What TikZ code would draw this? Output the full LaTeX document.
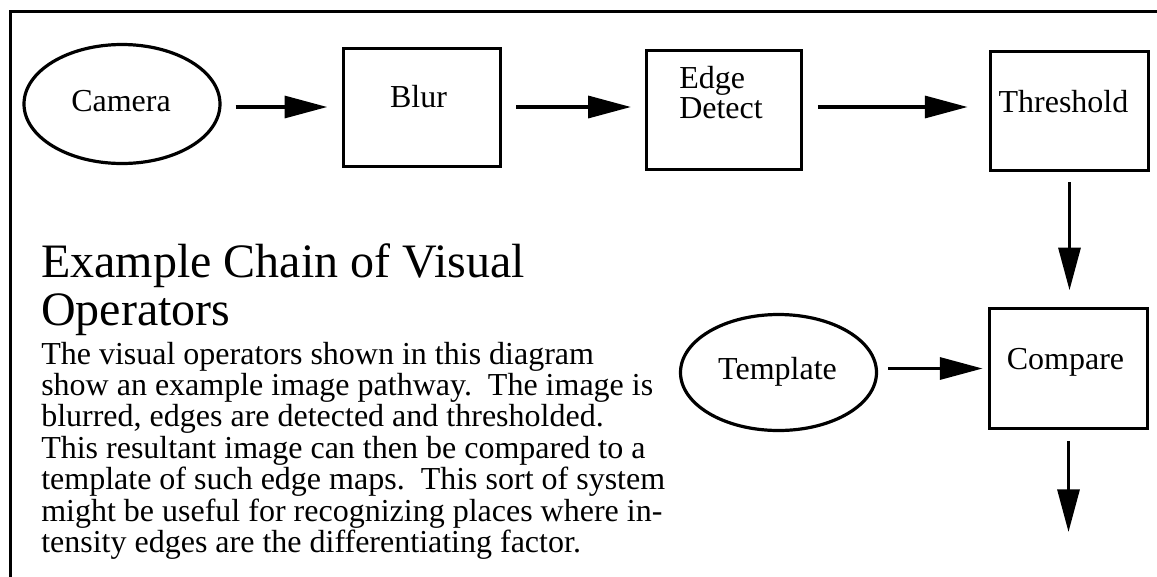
\documentclass[tikz,border=0pt]{standalone}
\usepackage{fontspec}
\setmainfont{Liberation Serif}
\usetikzlibrary{arrows.meta,shapes.geometric}

\tikzset{
  outline/.style={draw=black, line width=2.4pt},
  opoval/.style={outline, ellipse, inner sep=0pt},
  opbox/.style={outline, rectangle, inner sep=0pt},
  lbl/.style={inner sep=0pt, anchor=base, font=\fontsize{24pt}{24pt}\selectfont},
  flow/.style={line width=2.4pt, -{Triangle[length=32pt,width=16.5pt]}},
}

\begin{document}
\begin{tikzpicture}[x=0.75pt, y=-0.75pt]
  \useasboundingbox (0,0) rectangle (1157,576);

  % frame: top and left edges
  \draw[line width=2.5pt, line join=miter] (10.5,580) -- (10.5,11.5) -- (1160,11.5);

  % operators of the chain
  \node[opoval, minimum width=147pt, minimum height=89.25pt] (cam) at (122,104) {};
  \node[opbox, minimum width=117.75pt, minimum height=88.5pt] (blur) at (422,107.5) {};
  \node[opbox, minimum width=116.25pt, minimum height=89.25pt] (edge) at (724,110) {};
  \node[opbox, minimum width=118.5pt, minimum height=89.25pt] (thr) at (1069.5,111) {};
  \node[opbox, minimum width=118.5pt, minimum height=90pt] (cmp) at (1068.5,368.5) {};
  \node[opoval, minimum width=147pt, minimum height=87pt] (tpl) at (778.5,372.5) {};

  % labels
  \node[lbl] (camL) at (121,111) {Camera};
  \node[lbl] (blurL) at (418.5,107) {Blur};
  \node[lbl, anchor=base west] (edgeL) at (679,88)
    {\parbox[t]{120pt}{\fontsize{24pt}{22.5pt}\selectfont Edge\\Detect}};
  \node[lbl] (thrL) at (1063.5,112) {Threshold};
  \node[lbl] (cmpL) at (1065.5,369) {Compare};
  \node[lbl] (tplL) at (777.5,379) {Template};

  % connectors
  \coordinate (rowy) at (0,107);
  \coordinate (out) at (1068.5,532);
  \draw[flow, shorten <=10.5pt, shorten >=11pt] (cam.east |- rowy) -- (blur.west |- rowy);
  \draw[flow, shorten <=10.5pt, shorten >=10.5pt] (blur.east |- rowy) -- (edge.west |- rowy);
  \draw[flow, shorten <=11pt, shorten >=16pt] (edge.east |- rowy) -- (thr.west |- rowy);
  \draw[flow, shorten <=7.5pt, shorten >=12.5pt] (thr.south) -- (thr.south |- cmp.north);
  \draw[flow, shorten <=7.5pt, shorten >=4pt] (tpl.east |- cmp.west) -- (cmp.west);
  \draw[flow, shorten <=8pt] (cmp.south) -- (out);

  % title and description
  \node[inner sep=0pt, anchor=base west] (title) at (41,277)
    {\parbox[t]{500pt}{\raggedright\fontsize{36pt}{36pt}\selectfont
      Example Chain of Visual\\Operators}};
  \node[inner sep=0pt, anchor=base west] (desc) at (41,364)
    {\parbox[t]{520pt}{\raggedright\fontsize{24pt}{23.6pt}\selectfont
      The visual operators shown in this diagram\\
      show an example image pathway.\ \ The image is\\
      blurred, edges are detected and thresholded.\\
      This resultant image can then be compared to a\\
      template of such edge maps.\ \ This sort of system\\
      might be useful for recognizing places where in-\\
      tensity edges are the differentiating factor.}};
\end{tikzpicture}
\end{document}
